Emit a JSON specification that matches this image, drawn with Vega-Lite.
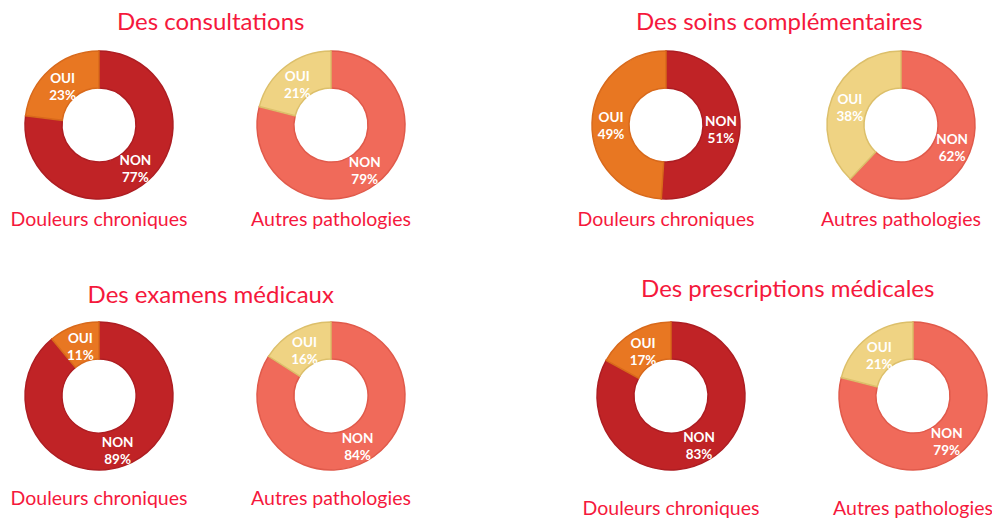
{
  "$schema": "https://vega.github.io/schema/vega-lite/v6.json",
  "background": "white",
  "padding": {"left": 10, "top": 11, "right": 0, "bottom": 0},
  "datasets": {
    "d": [
      {"groupe": "Des consultations", "pop": "Douleurs chroniques", "rep": "NON", "pct": 77},
      {"groupe": "Des consultations", "pop": "Douleurs chroniques", "rep": "OUI", "pct": 23},
      {"groupe": "Des consultations", "pop": "Autres pathologies", "rep": "NON", "pct": 79},
      {"groupe": "Des consultations", "pop": "Autres pathologies", "rep": "OUI", "pct": 21},
      {"groupe": "Des soins complémentaires", "pop": "Douleurs chroniques", "rep": "NON", "pct": 51},
      {"groupe": "Des soins complémentaires", "pop": "Douleurs chroniques", "rep": "OUI", "pct": 49},
      {"groupe": "Des soins complémentaires", "pop": "Autres pathologies", "rep": "NON", "pct": 62},
      {"groupe": "Des soins complémentaires", "pop": "Autres pathologies", "rep": "OUI", "pct": 38},
      {"groupe": "Des examens médicaux", "pop": "Douleurs chroniques", "rep": "NON", "pct": 89},
      {"groupe": "Des examens médicaux", "pop": "Douleurs chroniques", "rep": "OUI", "pct": 11},
      {"groupe": "Des examens médicaux", "pop": "Autres pathologies", "rep": "NON", "pct": 84},
      {"groupe": "Des examens médicaux", "pop": "Autres pathologies", "rep": "OUI", "pct": 16},
      {"groupe": "Des prescriptions médicales", "pop": "Douleurs chroniques", "rep": "NON", "pct": 83},
      {"groupe": "Des prescriptions médicales", "pop": "Douleurs chroniques", "rep": "OUI", "pct": 17},
      {"groupe": "Des prescriptions médicales", "pop": "Autres pathologies", "rep": "NON", "pct": 79},
      {"groupe": "Des prescriptions médicales", "pop": "Autres pathologies", "rep": "OUI", "pct": 21}
    ]
  },
  "config": {
    "view": {"stroke": null},
    "font": "Lato",
    "title": {"font": "Lato", "fontSize": 24, "fontWeight": "normal", "color": "#f5183c", "anchor": "middle", "offset": 13},
    "header": {"labelFont": "Lato", "labelFontSize": 19.5, "labelColor": "#f5183c", "labelOrient": "bottom", "labelPadding": 10, "title": null},
    "text": {"radius": 55, "dy": -5, "fill": "white", "fontWeight": "bold", "fontSize": 13.5, "lineBreak": "\n", "lineHeight": 17, "baseline": "middle"}
  },
  "spacing": 48,
  "vconcat": [
    {
      "spacing": 166,
      "hconcat": [
        {
          "title": "Des consultations",
          "data": {"name": "d"},
          "transform": [
            {"filter": "datum.groupe === 'Des consultations'"},
            {"calculate": "datum.pop + ' ' + datum.rep", "as": "key"},
            {"calculate": "datum.rep + '\\n' + datum.pct + '%'", "as": "lab"}
          ],
          "facet": {"column": {"field": "pop", "type": "nominal", "sort": ["Douleurs chroniques", "Autres pathologies"], "header": {"labelPadding": 9}}},
          "spacing": 78,
          "spec": {
            "width": 150, "height": 150,
            "encoding": {
              "theta": {"field": "pct", "type": "quantitative", "stack": true},
              "order": {"field": "rep", "sort": "ascending"}
            },
            "layer": [
              {"mark": {"type": "arc", "innerRadius": 37, "outerRadius": 74, "strokeWidth": 1.5},
               "encoding": {
                 "color": {"field": "key", "type": "nominal", "legend": null, "scale": {"domain": ["Douleurs chroniques NON", "Douleurs chroniques OUI", "Autres pathologies NON", "Autres pathologies OUI"], "range": ["#c02326", "#e87722", "#f06a5a", "#efd383"]}},
                 "stroke": {"field": "key", "type": "nominal", "legend": null, "scale": {"domain": ["Douleurs chroniques NON", "Douleurs chroniques OUI", "Autres pathologies NON", "Autres pathologies OUI"], "range": ["#ad1d22", "#d8691b", "#e05a4b", "#dcbf6a"]}}
               }},
              {"mark": {"type": "text"}, "encoding": {"text": {"field": "lab"}}}
            ]
          }
        },
        {
          "title": "Des soins complémentaires",
          "data": {"name": "d"},
          "transform": [
            {"filter": "datum.groupe === 'Des soins complémentaires'"},
            {"calculate": "datum.pop + ' ' + datum.rep", "as": "key"},
            {"calculate": "datum.rep + '\\n' + datum.pct + '%'", "as": "lab"}
          ],
          "facet": {"column": {"field": "pop", "type": "nominal", "sort": ["Douleurs chroniques", "Autres pathologies"], "header": {"labelPadding": 9}}},
          "spacing": 81,
          "spec": {
            "width": 150, "height": 150,
            "encoding": {
              "theta": {"field": "pct", "type": "quantitative", "stack": true},
              "order": {"field": "rep", "sort": "ascending"}
            },
            "layer": [
              {"mark": {"type": "arc", "innerRadius": 37, "outerRadius": 74, "strokeWidth": 1.5},
               "encoding": {
                 "color": {"field": "key", "type": "nominal", "legend": null},
                 "stroke": {"field": "key", "type": "nominal", "legend": null}
               }},
              {"mark": {"type": "text"}, "encoding": {"text": {"field": "lab"}}}
            ]
          }
        }
      ]
    },
    {
      "spacing": 171,
      "hconcat": [
        {
          "title": {"text": "Des examens médicaux", "offset": 11},
          "data": {"name": "d"},
          "transform": [
            {"filter": "datum.groupe === 'Des examens médicaux'"},
            {"calculate": "datum.pop + ' ' + datum.rep", "as": "key"},
            {"calculate": "datum.rep + '\\n' + datum.pct + '%'", "as": "lab"}
          ],
          "facet": {"column": {"field": "pop", "type": "nominal", "sort": ["Douleurs chroniques", "Autres pathologies"], "header": {"labelPadding": 17}}},
          "spacing": 78,
          "spec": {
            "width": 150, "height": 150,
            "encoding": {
              "theta": {"field": "pct", "type": "quantitative", "stack": true},
              "order": {"field": "rep", "sort": "ascending"}
            },
            "layer": [
              {"mark": {"type": "arc", "innerRadius": 37, "outerRadius": 74, "strokeWidth": 1.5},
               "encoding": {
                 "color": {"field": "key", "type": "nominal", "legend": null},
                 "stroke": {"field": "key", "type": "nominal", "legend": null}
               }},
              {"mark": {"type": "text"}, "encoding": {"text": {"field": "lab"}}}
            ]
          }
        },
        {
          "title": {"text": "Des prescriptions médicales", "offset": 17},
          "data": {"name": "d"},
          "transform": [
            {"filter": "datum.groupe === 'Des prescriptions médicales'"},
            {"calculate": "datum.pop + ' ' + datum.rep", "as": "key"},
            {"calculate": "datum.rep + '\\n' + datum.pct + '%'", "as": "lab"}
          ],
          "facet": {"column": {"field": "pop", "type": "nominal", "sort": ["Douleurs chroniques", "Autres pathologies"], "header": {"labelPadding": 27}}},
          "spacing": 88,
          "spec": {
            "width": 150, "height": 150,
            "encoding": {
              "theta": {"field": "pct", "type": "quantitative", "stack": true},
              "order": {"field": "rep", "sort": "ascending"}
            },
            "layer": [
              {"mark": {"type": "arc", "innerRadius": 37, "outerRadius": 74, "strokeWidth": 1.5},
               "encoding": {
                 "color": {"field": "key", "type": "nominal", "legend": null},
                 "stroke": {"field": "key", "type": "nominal", "legend": null}
               }},
              {"mark": {"type": "text"}, "encoding": {"text": {"field": "lab"}}}
            ]
          }
        }
      ]
    }
  ]
}
